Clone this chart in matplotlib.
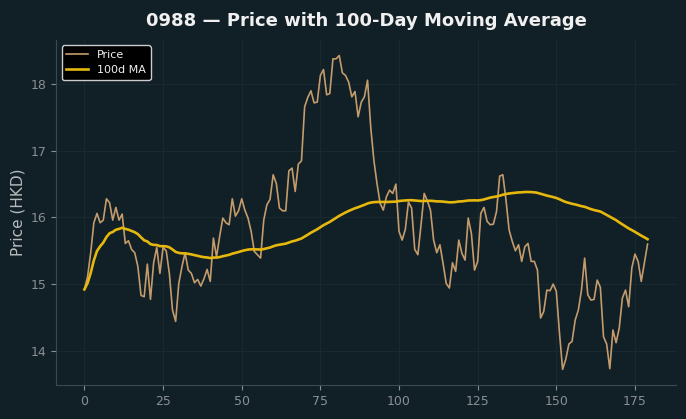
import matplotlib
matplotlib.use("Agg")
import matplotlib.pyplot as plt
import numpy as np
import pandas as pd

# daily close prices (day 0 .. 179)
price = [
    14.92, 15.11, 15.47, 15.92, 16.06, 15.92, 15.96, 16.28, 16.22, 15.96,
    16.15, 15.96, 16.05, 15.61, 15.65, 15.52, 15.47, 15.26, 14.83, 14.81,
    15.30, 14.77, 15.32, 15.55, 15.16, 15.55, 15.50, 15.16, 14.61, 14.44,
    15.01, 15.26, 15.47, 15.21, 15.16, 15.02, 15.07, 14.97, 15.08, 15.22,
    15.04, 15.69, 15.41, 15.72, 15.99, 15.92, 15.89, 16.28, 16.02, 16.10,
    16.28, 16.11, 15.99, 15.79, 15.49, 15.44, 15.39, 15.96, 16.19, 16.27,
    16.64, 16.51, 16.14, 16.10, 16.10, 16.70, 16.74, 16.39, 16.80, 16.85,
    17.66, 17.80, 17.90, 17.72, 17.73, 18.13, 18.22, 17.84, 17.86, 18.38,
    18.38, 18.43, 18.17, 18.13, 18.03, 17.81, 17.89, 17.51, 17.73, 17.81,
    18.06, 17.36, 16.86, 16.51, 16.21, 16.11, 16.31, 16.41, 16.36, 16.50,
    15.79, 15.66, 15.82, 16.23, 16.14, 15.52, 15.44, 15.89, 16.36, 16.25,
    16.11, 15.66, 15.47, 15.59, 15.31, 15.01, 14.94, 15.32, 15.19, 15.66,
    15.46, 15.36, 15.99, 15.76, 15.21, 15.34, 16.06, 16.15, 15.94, 15.89,
    15.90, 16.09, 16.62, 16.64, 16.26, 15.81, 15.64, 15.50, 15.59, 15.34,
    15.56, 15.61, 15.34, 15.34, 15.21, 14.49, 14.59, 14.91, 14.90, 15.00,
    14.89, 14.27, 13.72, 13.87, 14.10, 14.14, 14.46, 14.61, 14.91, 15.39,
    14.84, 14.76, 14.77, 15.06, 14.95, 14.21, 14.10, 13.73, 14.31, 14.12,
    14.34, 14.79, 14.91, 14.66, 15.24, 15.45, 15.34, 15.04, 15.32, 15.60,
]
ticker = "0988"
window = 100

bg = "#111f26"
s = pd.Series(price)
ma = s.rolling(window, min_periods=1).mean()

fig = plt.figure(figsize=(6.86, 4.19), dpi=100, facecolor=bg)
ax = fig.add_axes([0.082, 0.081, 0.903, 0.824], facecolor=bg)

ax.plot(s.index, s.values, color="#c49c6c", lw=1.2, label="Price")
ax.plot(ma.index, ma.values, color="#e6b80e", lw=1.9, label=f"{window}d MA")

ax.set_title(f"{ticker} — Price with {window}-Day Moving Average",
             color="#f0f0f0", fontsize=13, fontweight="bold", pad=10)
ax.set_ylabel("Price (HKD)", color="#b8bcbf", fontsize=11)
ax.set_xticks([0, 25, 50, 75, 100, 125, 150, 175])
ax.set_yticks([14, 15, 16, 17, 18])
ax.tick_params(colors="#8a8f93", labelsize=9)
ax.grid(True, color="#19292f", lw=0.8)
for side in ["top", "right"]:
    ax.spines[side].set_visible(False)
for side in ["left", "bottom"]:
    ax.spines[side].set_color("#3a4a52")

leg = ax.legend(loc="upper left", facecolor="black", edgecolor="#cccccc",
                fontsize=8, labelcolor="#f0f0f0", framealpha=1.0)

fig.savefig("out.png", dpi=100, facecolor=bg)
